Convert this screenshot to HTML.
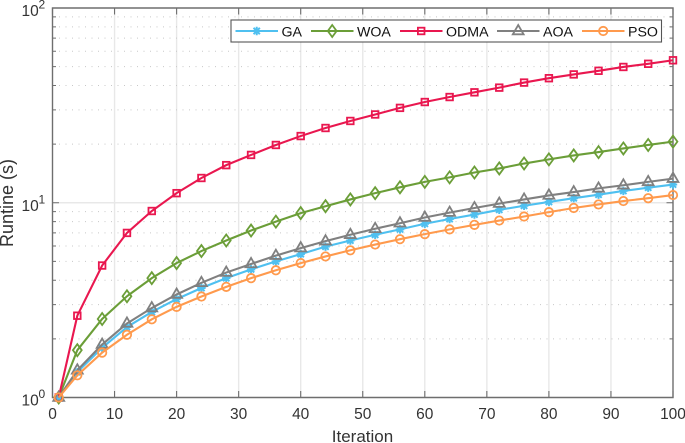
<!DOCTYPE html>
<html>
<head>
<meta charset="utf-8">
<style>
html,body{margin:0;padding:0;background:#fff;width:685px;height:443px;overflow:hidden}
svg{display:block}
text{font-family:"Liberation Sans",sans-serif}
</style>
</head>
<body>
<svg id="chart" width="685" height="443" viewBox="0 0 685 443" xmlns="http://www.w3.org/2000/svg"></svg>
<script>
const iterations = [1,4,8,12,16,20,24,28,32,36,40,44,48,52,56,60,64,68,72,76,80,84,88,92,96,100];
const gaValues = [1,1.35,1.8,2.3,2.75,3.2,3.65,4.1,4.55,5,5.45,5.95,6.4,6.85,7.3,7.8,8.25,8.7,9.2,9.65,10.1,10.55,11,11.5,11.95,12.4];
const woaValues = [1,1.75,2.53,3.31,4.1,4.9,5.65,6.4,7.2,8,8.85,9.6,10.4,11.2,12,12.8,13.5,14.3,15,15.9,16.7,17.5,18.2,19,19.8,20.6];
const odmaValues = [1,2.63,4.76,7,9.07,11.2,13.4,15.6,17.6,19.8,22,24.2,26.3,28.4,30.7,32.9,34.9,36.9,39,41.4,43.6,45.6,47.6,49.8,51.7,53.9];
const aoaValues = [1,1.38,1.87,2.4,2.88,3.38,3.88,4.38,4.85,5.35,5.85,6.35,6.85,7.35,7.85,8.4,8.9,9.4,9.9,10.4,10.9,11.35,11.85,12.3,12.8,13.3];
const psoValues = [1,1.3,1.7,2.1,2.52,2.92,3.3,3.7,4.1,4.5,4.9,5.3,5.7,6.1,6.5,6.9,7.3,7.7,8.1,8.5,8.95,9.4,9.8,10.2,10.55,10.95];
const xTickLabels = [0,10,20,30,40,50,60,70,80,90,100];
const yDecades = [0,1,2];
const minorMultipliers = [2,3,4,5,6,7,8,9];
const seriesNames = ['GA','WOA','ODMA','AOA','PSO'];

const NS = 'http://www.w3.org/2000/svg';
const svg = document.getElementById('chart');
const L = 52.5, R = 673, T = 8, B = 397.5;
const xScale = v => L + (v / 100) * (R - L);
const yScale = v => B - (Math.log10(v) / 2) * (B - T);

function make(tag, attrs, parent) {
  const el = document.createElementNS(NS, tag);
  for (const k in attrs) el.setAttribute(k, attrs[k]);
  (parent || svg).appendChild(el);
  return el;
}

/* grid */
const grid = make('g', {});


xTickLabels.forEach(v => {
  if (v === 0 || v === 100) return;
  const l = make('line', {x1: xScale(v), x2: xScale(v), y1: T, y2: B, stroke: '#e8e8e8', 'stroke-width': 1.4}, grid);
  
  
});
yDecades.forEach(d => {
  if (d < 2) minorMultipliers.forEach(m => {
    const y = yScale(m * Math.pow(10, d));
    const l = make('line', {x1: L, x2: R, y1: y, y2: y, stroke: '#c8c8c8', 'stroke-width': 1, 'stroke-dasharray': '1 5.5'}, grid);
    
    
  });
  if (d === 1) {
    const y = yScale(10);
    const l = make('line', {x1: L, x2: R, y1: y, y2: y, stroke: '#e8e8e8', 'stroke-width': 1.4}, grid);
    
    
  }
});

/* axes */
const axes = make('g', {stroke: '#6e6e6e', fill: 'none'});


const frame = make('path', {d: `M${L} ${T}H${R}V${B}H${L}Z`, 'stroke-width': 1.4}, axes);


xTickLabels.forEach(v => {
  const x = xScale(v);
  const t = make('path', {d: `M${x} ${B}v-6.5M${x} ${T}v6.5`, 'stroke-width': 1.1}, axes);
  
  
  const s = make('text', {x: x, y: 419, 'text-anchor': 'middle', 'font-size': 15.5, fill: '#333', stroke: 'none'});
  s.textContent = v;
  
  
});
yDecades.forEach(d => {
  const y = yScale(Math.pow(10, d));
  const t = make('path', {d: `M${L} ${y}h6.5M${R} ${y}h-6.5`, 'stroke-width': 1.1}, axes);
  
  
  const s = make('text', {x: 21.5, y: y + 8, 'font-size': 15.5, fill: '#333'});
  s.textContent = '10';
  
  
  const e = make('text', {x: 38.5, y: y + 0.5, 'font-size': 12, fill: '#333'});
  e.textContent = d;
  
  
  if (d < 2) minorMultipliers.forEach(m => {
    const my = yScale(m * Math.pow(10, d));
    const mt = make('path', {d: `M${L} ${my}h3.5M${R} ${my}h-3.5`, 'stroke-width': 1}, axes);
    
    
  });
});

/* markers */
function drawMarker(parent, kind, x, y, color) {
  const base = {fill: 'none', stroke: color, 'stroke-width': 1.8};
  if (kind === 'GA') {
    const a = 4.2;
    return make('path', {d: `M${x-a} ${y}H${x+a}M${x} ${y-a}V${y+a}M${x-a*.75} ${y-a*.75}L${x+a*.75} ${y+a*.75}M${x-a*.75} ${y+a*.75}L${x+a*.75} ${y-a*.75}`, fill: 'none', stroke: color, 'stroke-width': 2}, parent);
  }
  if (kind === 'WOA') return make('path', Object.assign({d: `M${x} ${y-6}L${x+4.4} ${y}L${x} ${y+6}L${x-4.4} ${y}Z`}, base), parent);
  if (kind === 'ODMA') return make('rect', Object.assign({x: x-3.3, y: y-3.3, width: 6.6, height: 6.6}, base), parent);
  if (kind === 'AOA') return make('path', Object.assign({d: `M${x} ${y-6}L${x+5.4} ${y+3.3}H${x-5.4}Z`}, base), parent);
  return make('circle', Object.assign({cx: x, cy: y, r: 4.2}, base), parent);
}

/* series */
const seriesColors = {GA: '#4fc0f0', WOA: '#6b9e38', ODMA: '#e9174f', AOA: '#808080', PSO: '#ff9a4d'};
const seriesData = {GA: gaValues, WOA: woaValues, ODMA: odmaValues, AOA: aoaValues, PSO: psoValues};
seriesNames.forEach(name => {
  const vals = seriesData[name];
  const g = make('g', {});
  
  
  const pts = iterations.map((it, i) => xScale(it).toFixed(2) + ',' + yScale(vals[i]).toFixed(2)).join(' ');
  const line = make('polyline', {points: pts, fill: 'none', stroke: seriesColors[name], 'stroke-width': 2.1}, g);
  
  
  iterations.forEach((it, i) => {
    const m = drawMarker(g, name, xScale(it), yScale(vals[i]), seriesColors[name]);
    
    
  });
});

/* legend */
const legend = make('g', {});


const legendBox = make('rect', {x: 231, y: 20, width: 430.5, height: 22, fill: '#fff', stroke: '#555', 'stroke-width': 1.1}, legend);


const legendStarts = {GA: 235.5, WOA: 311, ODMA: 400, AOA: 497, PSO: 582};
seriesNames.forEach(name => {
  const x0 = legendStarts[name];
  const e = make('g', {}, legend);
  
  
  make('line', {x1: x0, x2: x0 + 42.5, y1: 31, y2: 31, stroke: seriesColors[name], 'stroke-width': 1.9}, e);
  drawMarker(e, name, x0 + 21.2, 31, seriesColors[name]);
  const t = make('text', {x: x0 + 46, y: 36.5, 'font-size': 14.2, fill: '#111'}, e);
  t.textContent = name;
});

/* axis titles */
const xTitle = make('text', {x: 362.5, y: 442, 'text-anchor': 'middle', 'font-size': 17, fill: '#333'});
xTitle.textContent = 'Iteration';


const yTitle = make('text', {x: 0, y: 0, 'text-anchor': 'middle', 'font-size': 18, fill: '#333', transform: 'translate(13 203) rotate(-90)'});
yTitle.textContent = 'Runtine (s)';


</script>
</body>
</html>
